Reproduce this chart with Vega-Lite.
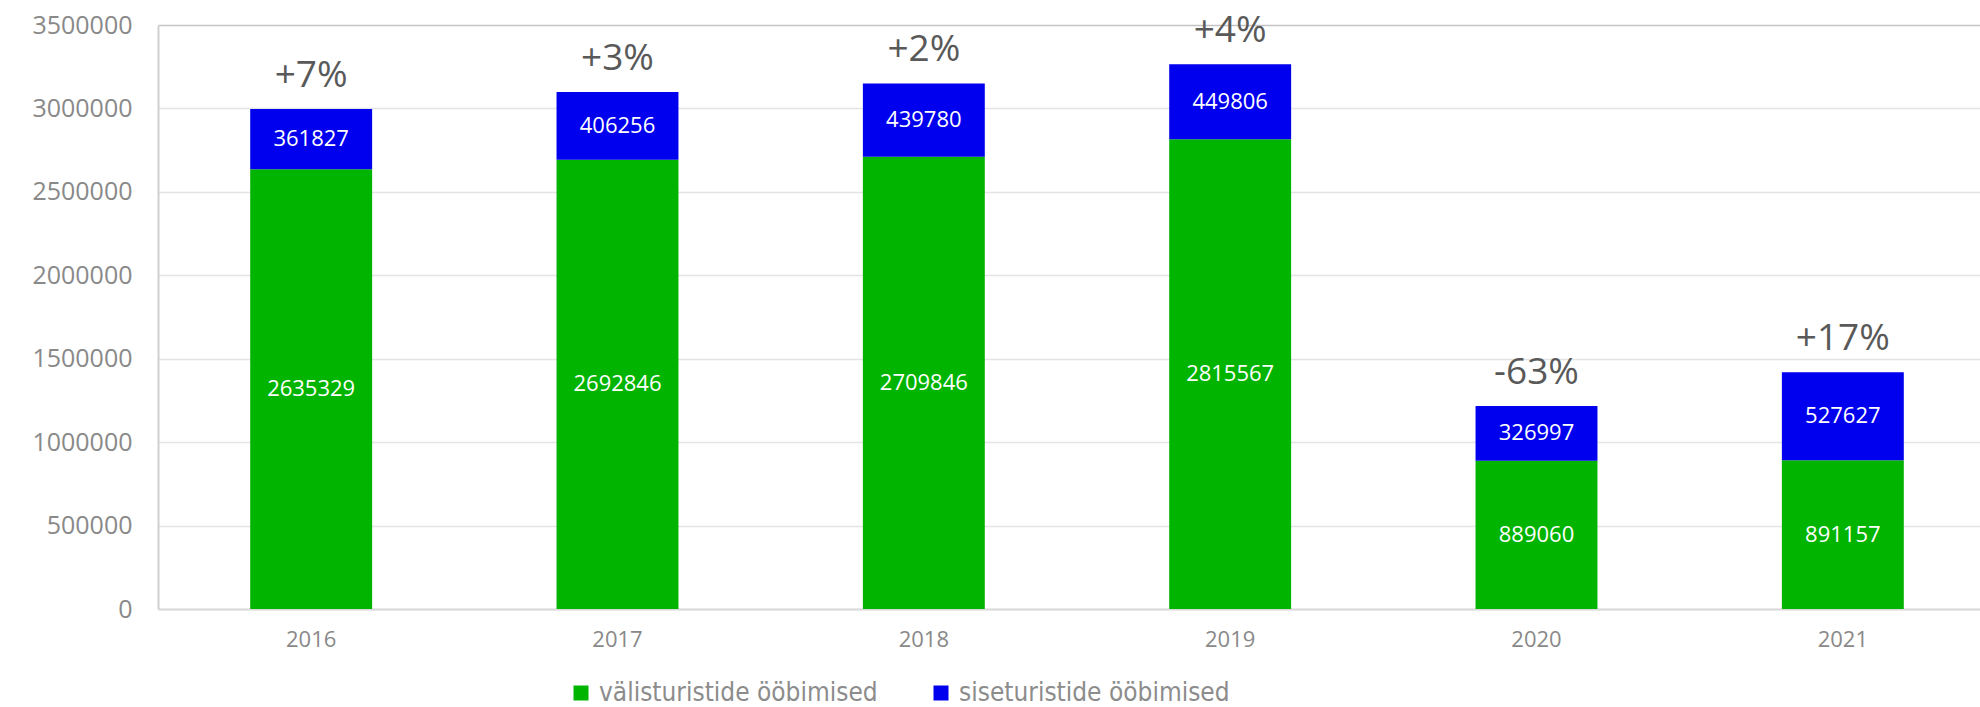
{
  "$schema": "https://vega.github.io/schema/vega-lite/v6.json",
  "width": 1822,
  "height": 584,
  "autosize": "none",
  "padding": {"left": 158, "top": 25, "right": 0, "bottom": 98},
  "background": "white",
  "config": {
    "view": {"stroke": null},
    "font": "Open Sans"
  },
  "data": {
    "values": [
      {"year": "2016", "type": "välisturistide ööbimised", "value": 2635329, "change": "+7%"},
      {"year": "2016", "type": "siseturistide ööbimised", "value": 361827, "change": "+7%"},
      {"year": "2017", "type": "välisturistide ööbimised", "value": 2692846, "change": "+3%"},
      {"year": "2017", "type": "siseturistide ööbimised", "value": 406256, "change": "+3%"},
      {"year": "2018", "type": "välisturistide ööbimised", "value": 2709846, "change": "+2%"},
      {"year": "2018", "type": "siseturistide ööbimised", "value": 439780, "change": "+2%"},
      {"year": "2019", "type": "välisturistide ööbimised", "value": 2815567, "change": "+4%"},
      {"year": "2019", "type": "siseturistide ööbimised", "value": 449806, "change": "+4%"},
      {"year": "2020", "type": "välisturistide ööbimised", "value": 889060, "change": "-63%"},
      {"year": "2020", "type": "siseturistide ööbimised", "value": 326997, "change": "-63%"},
      {"year": "2021", "type": "välisturistide ööbimised", "value": 891157, "change": "+17%"},
      {"year": "2021", "type": "siseturistide ööbimised", "value": 527627, "change": "+17%"}
    ]
  },
  "encoding": {
    "x": {
      "field": "year",
      "type": "nominal",
      "scale": {"range": [0, 1838], "paddingInner": 0.602, "paddingOuter": 0.301},
      "axis": {
        "title": null,
        "labelAngle": 0,
        "labelFont": "Open Sans",
        "labelFontSize": 22,
        "labelColor": "#898989",
        "labelPadding": 20,
        "ticks": false,
        "domain": true,
        "domainColor": "#d9d9d9",
        "domainWidth": 2,
        "grid": false
      }
    }
  },
  "layer": [
    {
      "mark": {"type": "bar"},
      "encoding": {
        "y": {
          "field": "value",
          "type": "quantitative",
          "stack": "zero",
          "scale": {"domain": [0, 3500000], "nice": false},
          "axis": {
            "title": null,
            "values": [0, 500000, 1000000, 1500000, 2000000, 2500000, 3000000, 3500000],
            "format": "d",
            "labelFont": "Open Sans",
            "labelFontSize": 25,
            "labelColor": "#898989",
            "labelPadding": 26,
            "ticks": false,
            "domain": true,
            "domainColor": "#d0d0d0",
            "domainWidth": 2,
            "grid": true,
            "gridColor": {"condition": {"test": "datum.value === 3500000", "value": "#c4c4c4"}, "value": "#e4e4e4"},
            "gridWidth": 1.5
          }
        },
        "color": {
          "field": "type",
          "type": "nominal",
          "scale": {
            "domain": ["välisturistide ööbimised", "siseturistide ööbimised"],
            "range": ["#00b400", "#0000ee"]
          },
          "legend": {
            "orient": "none",
            "legendX": 410,
            "legendY": 655,
            "direction": "horizontal",
            "title": null,
            "symbolType": "square",
            "symbolSize": 225,
            "symbolStrokeWidth": 0,
            "labelFontSize": 26,
            "labelFont": "DejaVu Sans Condensed",
            "labelColor": "#8c8c8c",
            "labelLimit": 600,
            "columnPadding": 50,
            "labelOffset": 5,
            "padding": 0
          }
        },
        "order": {"field": "type", "sort": "descending"}
      }
    },
    {
      "transform": [
        {"stack": "value", "groupby": ["year"], "sort": [{"field": "type", "order": "descending"}], "as": ["y0", "y1"]},
        {"fold": ["y0", "y1"], "as": ["edge", "pos"]},
        {"aggregate": [{"op": "mean", "field": "pos", "as": "mid"}], "groupby": ["year", "type", "value"]}
      ],
      "mark": {"type": "text", "color": "#ffffff", "fontSize": 22, "font": "Open Sans", "baseline": "middle"},
      "encoding": {
        "y": {"field": "mid", "type": "quantitative", "scale": {"domain": [0, 3500000], "nice": false}},
        "text": {"field": "value", "type": "quantitative", "format": "d"}
      }
    },
    {
      "transform": [
        {"aggregate": [{"op": "sum", "field": "value", "as": "total"}], "groupby": ["year", "change"]}
      ],
      "mark": {"type": "text", "fontSize": 37, "color": "#595959", "dy": -22, "baseline": "alphabetic", "font": "Open Sans"},
      "encoding": {
        "y": {"field": "total", "type": "quantitative", "scale": {"domain": [0, 3500000], "nice": false}},
        "text": {"field": "change", "type": "nominal"}
      }
    }
  ]
}
